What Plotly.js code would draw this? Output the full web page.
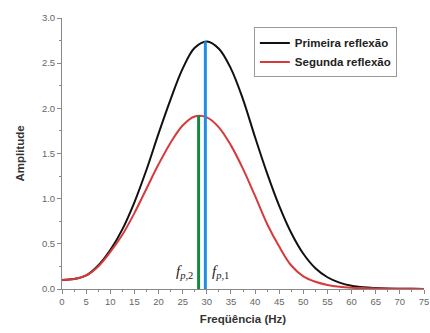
<!DOCTYPE html>
<html>
<head>
<meta charset="utf-8">
<script src="https://cdn.plot.ly/plotly-3.0.1.min.js"></script>
<style>html,body{margin:0;padding:0;background:#fff;}#chart{width:430px;height:333px;}</style>
</head>
<body>
<div id="chart"></div>
<script>
const freq = [0,2.5,5,7.5,10,12.5,15,17.5,20,22.5,25,27.5,30,32.5,35,37.5,40,42.5,45,47.5,50,52.5,55,57.5,60,62.5,65,67.5,70,72.5,75];
const primeira = [0.10,0.11,0.15,0.26,0.43,0.66,0.96,1.32,1.72,2.10,2.44,2.67,2.74,2.66,2.44,2.10,1.68,1.28,0.92,0.62,0.39,0.23,0.13,0.07,0.035,0.018,0.01,0.005,0.003,0.002,0.001];
const segunda = [0.10,0.11,0.15,0.25,0.41,0.60,0.84,1.11,1.38,1.62,1.81,1.91,1.90,1.79,1.59,1.33,1.03,0.72,0.47,0.26,0.14,0.08,0.045,0.025,0.015,0.01,0.006,0.004,0.003,0.002,0.001];
const peakFreqs = [29.7, 28.3];
const peakAmps = [2.74, 1.92];
const peakLabels = ['<i>f</i><sub><i>p</i>,1</sub>', '<i>f</i><sub><i>p</i>,2</sub>'];
const labelPos = [[32.8, 0.19], [25.3, 0.19]];

const traces = [
  {x: freq, y: primeira, mode: 'lines', line: {color: '#111111', width: 2, shape: 'spline'}, name: 'Primeira reflexão'},
  {x: freq, y: segunda, mode: 'lines', line: {color: '#d63a3c', width: 2, shape: 'spline'}, name: 'Segunda reflexão'},
  {x: [peakFreqs[1], peakFreqs[1]], y: [0, peakAmps[1]], mode: 'lines', line: {color: '#138a3e', width: 3}, showlegend: false},
  {x: [peakFreqs[0], peakFreqs[0]], y: [0, peakAmps[0]], mode: 'lines', line: {color: '#1e8ee6', width: 3}, showlegend: false}
];

const layout = {
  width: 430, height: 333,
  margin: {l: 62, r: 6, t: 18, b: 44},
  paper_bgcolor: '#fff', plot_bgcolor: '#fff',
  showlegend: true,
  font: {family: 'Liberation Sans, Arial, sans-serif', color: '#555'},
  legend: {x: 0.53, y: 0.965, xanchor: 'left', yanchor: 'top', bgcolor: '#fff', bordercolor: '#999', borderwidth: 1,
    font: {size: 11.5, color: '#222', family: 'Liberation Sans, Arial, sans-serif', weight: 'bold'}, itemwidth: 30, tracegroupgap: 0},
  xaxis: {range: [0, 75], dtick: 5, tick0: 0, showgrid: false, zeroline: false, showline: true, linecolor: '#888', linewidth: 1,
    ticks: 'outside', ticklen: 4, tickcolor: '#888', tickfont: {size: 9.5, color: '#666'},
    minor: {dtick: 2.5, ticklen: 2, tickcolor: '#888', showgrid: false},
    title: {text: 'Freqüência (Hz)', font: {size: 11.5, color: '#333', weight: 'bold'}, standoff: 8}},
  yaxis: {range: [0, 3.0], dtick: 0.5, tick0: 0, tickformat: '.1f', showgrid: false, zeroline: false, showline: true, linecolor: '#888', linewidth: 1,
    ticks: 'outside', ticklen: 4, tickcolor: '#888', tickfont: {size: 9.5, color: '#666'},
    minor: {dtick: 0.25, ticklen: 2, tickcolor: '#888', showgrid: false},
    title: {text: 'Amplitude', font: {size: 11.5, color: '#333', weight: 'bold'}, standoff: 14}},
  annotations: peakLabels.map((t, i) => ({x: labelPos[i][0], y: labelPos[i][1], xref: 'x', yref: 'y', text: t, showarrow: false,
    font: {family: 'Liberation Serif, Times New Roman, serif', size: 15, color: '#222'}}))
};

Plotly.newPlot('chart', traces, layout, {displayModeBar: false});
</script>
</body>
</html>
